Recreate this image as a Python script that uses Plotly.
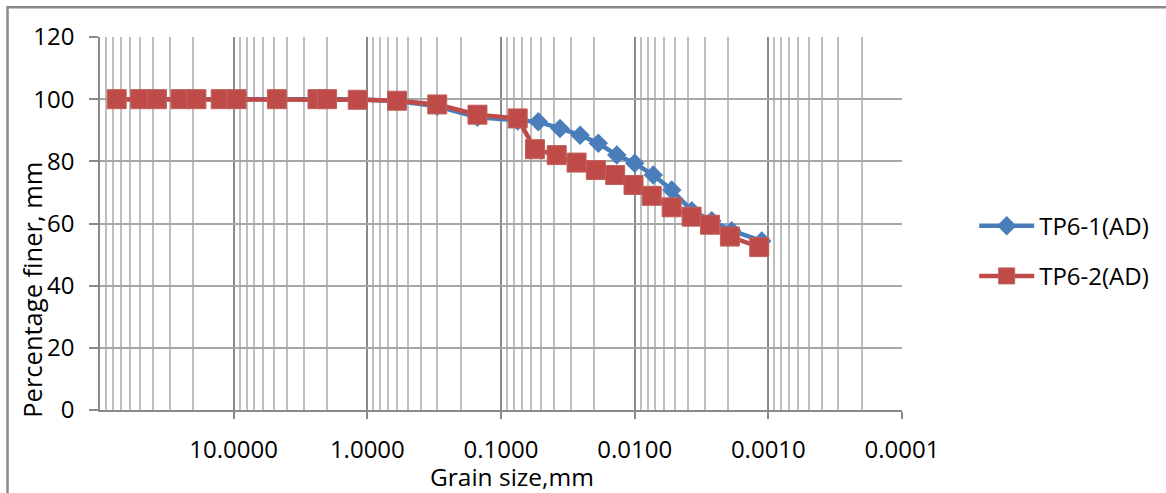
import plotly.graph_objects as go

# ---- data ----
sieve_sizes = [75, 50, 37.5, 25, 19, 12.5, 9.5, 4.75, 2.36, 2.0, 1.18, 0.6, 0.3, 0.15, 0.075]
tp61_sieve = [100, 100, 100, 100, 100, 100, 100, 100, 100, 100, 100, 99.4, 97.7, 94.2, 93.0]
tp62_sieve = [100, 100, 100, 100, 100, 100, 100, 100, 100, 100, 99.8, 99.5, 98.3, 95.0, 93.8]

tp61_hydro_sizes = [0.0526, 0.0362, 0.0256, 0.0187, 0.0136, 0.0100, 0.00726, 0.00528, 0.00374, 0.00265, 0.00188, 0.00112]
tp61_hydro = [92.7, 90.6, 88.4, 85.8, 82.0, 79.4, 75.6, 70.8, 64.1, 60.9, 57.7, 54.4]

tp62_hydro_sizes = [0.0557, 0.0383, 0.0272, 0.0195, 0.0140, 0.0102, 0.00746, 0.00529, 0.00375, 0.00273, 0.00194, 0.00117]
tp62_hydro = [83.9, 82.0, 79.6, 77.2, 75.6, 72.4, 68.9, 65.2, 62.2, 59.6, 55.8, 52.4]

series_names = ["TP6-1(AD)", "TP6-2(AD)"]
x_tick_vals = [10, 1, 0.1, 0.01, 0.001, 0.0001]
x_tick_text = ["10.0000", "1.0000", "0.1000", "0.0100", "0.0010", "0.0001"]
y_tick_vals = [0, 20, 40, 60, 80, 100, 120]

BLUE = "#4A7EBB"
RED = "#BE4B48"
FONT = "Open Sans"

fig = go.Figure()
fig.add_trace(go.Scatter(
    x=sieve_sizes + tp61_hydro_sizes, y=tp61_sieve + tp61_hydro,
    mode="lines+markers", name=series_names[0], legendgroup="a",
    line=dict(color=BLUE, width=4.5),
    marker=dict(symbol="diamond", size=15, color=BLUE, line=dict(width=0)),
))
fig.add_trace(go.Scatter(
    x=sieve_sizes + tp62_hydro_sizes, y=tp62_sieve + tp62_hydro,
    mode="lines+markers", name=series_names[1], legendgroup="b",
    line=dict(color=RED, width=4.5),
    marker=dict(symbol="square", size=19, color=RED, line=dict(width=1, color="#C0605C")),
))

minor_vals = [m * 10 ** e for e in range(-4, 2) for m in range(2, 10)]

fig.update_xaxes(
    type="log", range=[2, -4],
    tickvals=x_tick_vals, ticktext=x_tick_text,
    showgrid=True, gridcolor="#8a8a8a", gridwidth=1.5,
    minor=dict(tickvals=minor_vals, showgrid=True, gridcolor="#bebebe", gridwidth=1.5, ticks=""),
    showline=True, linecolor="#8a8a8a", linewidth=2,
    ticks="outside", ticklen=7, tickcolor="#8a8a8a", tickwidth=1.5,
    ticklabelstandoff=10,
    tickfont=dict(family=FONT, size=24, color="black"),
    zeroline=False,
)
fig.update_yaxes(
    range=[0, 120], tickvals=y_tick_vals,
    showgrid=True, gridcolor="#a6a6a6", gridwidth=1.5,
    showline=True, linecolor="#8a8a8a", linewidth=1.5,
    ticks="outside", ticklen=9, tickcolor="#8a8a8a", tickwidth=1.5,
    ticklabelstandoff=10,
    tickfont=dict(family=FONT, size=24, color="black"),
    zeroline=False,
)

fig.add_annotation(
    text="Grain size,mm", xref="paper", yref="paper",
    x=0.514, y=-0.178, xanchor="center", yanchor="middle", showarrow=False,
    font=dict(family=FONT, size=24.5, color="black"),
)
fig.add_annotation(
    text="Percentage finer, mm", xref="paper", yref="paper", textangle=-90,
    x=-0.085, y=0.322, xanchor="center", yanchor="middle", showarrow=False,
    font=dict(family=FONT, size=25.5, color="black"),
)

# chart-area border
fig.add_shape(type="rect", xref="paper", yref="paper",
              x0=-0.1153, y0=-0.3, x1=1.4, y1=1.0795,
              line=dict(color="#8a8a8a", width=2.5), layer="below")

fig.update_layout(
    width=1166, height=493,
    margin=dict(l=100, r=264, t=37, b=82.5),
    paper_bgcolor="white", plot_bgcolor="white",
    font=dict(family=FONT, size=24, color="black"),
    showlegend=True,
    legend=dict(x=1.09, y=0.426, xanchor="left", yanchor="middle",
                tracegroupgap=16, itemwidth=55,
                font=dict(family=FONT, size=24, color="black"),
                bgcolor="rgba(0,0,0,0)"),
)

fig.write_html("out.html")
